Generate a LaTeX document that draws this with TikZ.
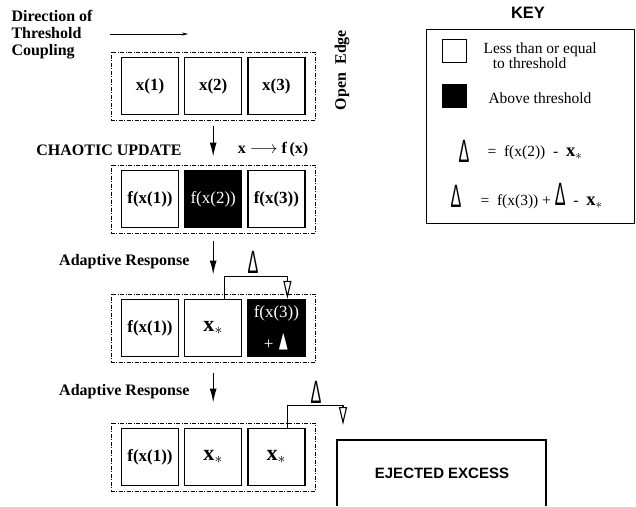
\documentclass[tikz,border=0pt]{standalone}
\usepackage{fontspec}
\setmainfont{Liberation Serif}
\setsansfont{Liberation Sans}
\usepackage{amssymb}
\usetikzlibrary{positioning,fit,arrows.meta}

\newcommand{\dtri}{\scalebox{0.85}[1.7]{\fontsize{19}{19}\selectfont\sffamily\symbol{"0394}}}
\newcommand{\xstar}{\scalebox{1.3}{$\mathbf{x}_{\ast}$}}

\begin{document}
\begin{tikzpicture}[
    x=1pt, y=-1pt,
    cell/.style={draw, line width=1.2pt, minimum width=57pt, minimum height=57pt,
        inner sep=0pt, font=\fontsize{17}{19}\selectfont\bfseries},
    hot/.style={cell, fill=black, text=white, font=\fontsize{17}{19}\selectfont},
    frame/.style={draw, line width=0.8pt, dash pattern=on 4pt off 1.5pt on 1pt off 1.5pt,
        inner xsep=10pt, inner ysep=5pt},
    lbl/.style={font=\fontsize{16}{17}\selectfont\bfseries},
    keytext/.style={font=\fontsize{15.5}{15}\selectfont, anchor=west},
    flow/.style={line width=1.2pt, -{Latex[length=14pt,width=7pt]}},
    link/.style={line width=1.1pt, -{Triangle[open,length=18pt,width=8pt]}}
]
    \useasboundingbox (0,0) rectangle (636,506);

    % --- TOP: direction of coupling ---
    \node[lbl, align=left, anchor=west] (dir) at (8,35) {Direction of\\Threshold\\Coupling};
    \coordinate (dirA) at (110,34);
    \coordinate (dirB) at (188,34);
    \draw[-{Stealth[length=6pt,width=3pt]}, line width=0.6pt] (dirA) -- (dirB);

    % --- ROW 1 (initial state) ---
    \node[cell] (x1) at (150,86) {x(1)};
    \node[cell, right=5pt of x1] (x2) {x(2)};
    \node[cell, right=5pt of x2] (x3) {x(3)};
    \node[frame, fit=(x1)(x3)] (row1) {};
    \node[lbl, rotate=90] (edge) at (342,70) {Open~~Edge};

    % --- ROW 2 (chaotic update) ---
    \node[lbl, anchor=east] (chaos) at (185,150) {CHAOTIC UPDATE};
    \node[lbl] (map) at (273,150) {x $\longrightarrow$ f\,(x)};
    \node[cell] (f1) at (150,199) {f(x(1))};
    \node[hot, right=5pt of f1] (f2) {f(x(2))};
    \node[cell, right=5pt of f2] (f3) {f(x(3))};
    \node[frame, fit=(f1)(f3)] (row2) {};
    \draw[flow] ([yshift=-5pt]row1.south -| x2) -- ([yshift=8pt]row2.north -| f2);

    % --- ROW 3 (first adaptive response) ---
    \node[lbl, anchor=east] (adapt1) at (193,262) {Adaptive Response};
    \node (d1) at (253,262) {\dtri};
    \node[cell] (a1) at (150,328) {f(x(1))};
    \node[cell, right=5pt of a1] (a2) {\xstar};
    \node[hot, right=5pt of a2, align=center] (a3)
        {f(x(3))\\[13pt]+ \scalebox{0.9}[1.6]{$\blacktriangle$}};
    \node[frame, fit=(a1)(a3)] (row3) {};
    \draw[flow] ([yshift=-7pt]row2.south -| f2) -- ([yshift=19pt]row3.north -| a2);
    \draw[link] ([xshift=11pt]a2.north) -- ++(0,-22) -| ([xshift=11pt]a3.north);

    % --- ROW 4 (second adaptive response) ---
    \node[lbl, anchor=east] (adapt2) at (193,392) {Adaptive Response};
    \node (d2) at (316,392) {\dtri};
    \node[cell] (b1) at (150,457) {f(x(1))};
    \node[cell, right=5pt of b1] (b2) {\xstar};
    \node[cell, right=5pt of b2] (b3) {\xstar};
    \node[frame, fit=(b1)(b3)] (row4) {};
    \draw[flow] ([yshift=-10pt]row3.south -| a2) -- ([yshift=20pt]row4.north -| b2);
    \coordinate (spill) at (343,425);
    \draw[link] ([xshift=11pt]b3.north) -- ++(0,-22) -| (spill);

    % --- EJECTED EXCESS (open at the bottom) ---
    \coordinate (ejL) at (337,506);
    \coordinate (ejR) at (546,506);
    \draw[line width=1.2pt] (ejL) -- (337,440) -- (546,440) -- (ejR);
    \node[font=\sffamily\bfseries\fontsize{15}{17}\selectfont] (ejected) at (442,473) {EJECTED EXCESS};

    % --- KEY ---
    \node[font=\sffamily\bfseries\fontsize{16.5}{18}\selectfont] (keytitle) at (528,13) {KEY};
    \node[draw, line width=1.2pt, anchor=north west, minimum width=208pt,
        minimum height=194pt] (key) at (426,29) {};
    \node[draw, line width=1pt, minimum width=24pt, minimum height=23pt, inner sep=0pt] (keylow) at (454,51) {};
    \node[keytext, align=left] (lowtxt) at (480,56) {Less than or equal\\\hspace*{0.6em}to threshold};
    \node[draw, fill=black, minimum width=24pt, minimum height=23pt, inner sep=0pt] (keyhigh) at (454,96) {};
    \node[keytext] (hightxt) at (485,98) {Above threshold};
    \node (kd1) at (464,151) {\dtri};
    \node[keytext] (eq1) at (484,153) {= ~f(x(2)) ~- ~\scalebox{1.2}{$\mathbf{x}_{\ast}$}};
    \node (kd2) at (456,196) {\dtri};
    \node[keytext] (eq2) at (477,196) {= ~f(x(3)) + \dtri{} ~- ~\scalebox{1.2}{$\mathbf{x}_{\ast}$}};

\end{tikzpicture}
\end{document}
